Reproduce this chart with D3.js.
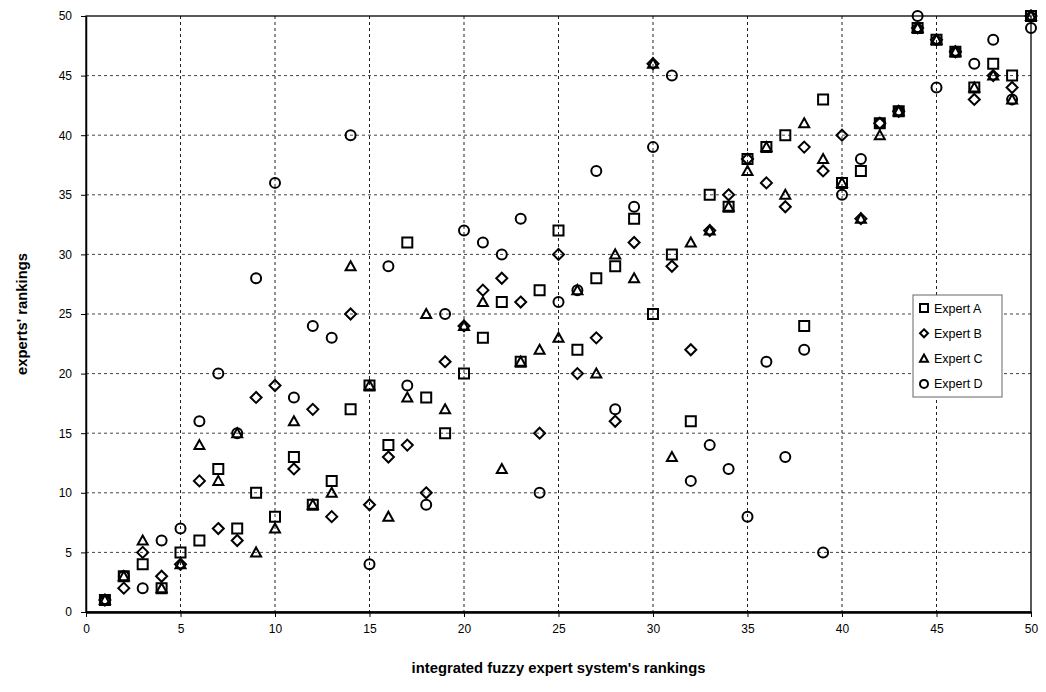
<!DOCTYPE html>
<html>
<head>
<meta charset="utf-8">
<script src="https://cdn.jsdelivr.net/npm/d3@7/dist/d3.min.js"></script>
<style>
  html, body { margin: 0; padding: 0; background: #fff; overflow: hidden; }
  svg { display: block; font-family: Arial, "Liberation Sans", sans-serif; }
</style>
</head>
<body>
<svg id="chart" width="1046" height="692"></svg>
<script>
// rank given by the integrated fuzzy expert system
const systemRank = [1,2,3,4,5,6,7,8,9,10,11,12,13,14,15,16,17,18,19,20,21,22,23,24,25,
  26,27,28,29,30,31,32,33,34,35,36,37,38,39,40,41,42,43,44,45,46,47,48,49,50];

const expertA = [1,3,4,2,5,6,12,7,10,8,13,9,11,17,19,14,31,18,15,20,23,26,21,27,32,
  22,28,29,33,25,30,16,35,34,38,39,40,24,43,36,37,41,42,49,48,47,44,46,45,50];
const expertB = [1,2,5,3,4,11,7,6,18,19,12,17,8,25,9,13,14,10,21,24,27,28,26,15,30,
  20,23,16,31,46,29,22,32,35,38,36,34,39,37,40,33,41,42,49,48,47,43,45,44,50];
const expertC = [1,3,6,2,4,14,11,15,5,7,16,9,10,29,19,8,18,25,17,24,26,12,21,22,23,
  27,20,30,28,46,13,31,32,34,37,39,35,41,38,36,33,40,42,49,48,47,44,45,43,50];
const expertD = [1,3,2,6,7,16,20,15,28,36,18,24,23,40,4,29,19,9,25,32,31,30,33,10,26,
  27,37,17,34,39,45,11,14,12,8,21,13,22,5,35,38,41,42,50,44,47,46,48,43,49];

const seriesNames = ['Expert A', 'Expert B', 'Expert C', 'Expert D'];
const seriesValues = [expertA, expertB, expertC, expertD];
const seriesShapes = ['square', 'diamond', 'triangle', 'circle'];
const axisTicks = [0,5,10,15,20,25,30,35,40,45,50];

const margin = {top: 16, right: 15, bottom: 80, left: 86};
const width = 1046, height = 692;
const innerWidth = width - margin.left - margin.right;
const innerHeight = height - margin.top - margin.bottom;

const svg = d3.select('#chart');
const g = svg.append('g')
  .attr('transform', 'translate(' + margin.left + ',' + margin.top + ')');

const x = d3.scaleLinear().domain([0, 50]).range([0, innerWidth]);
const y = d3.scaleLinear().domain([0, 50]).range([innerHeight, 0]);

// dashed grid
g.append('g').selectAll('line.h')
  .data(axisTicks.filter(t => t > 0 && t < 50))
  .join('line')
  .attr('x1', 0).attr('x2', innerWidth)
  .attr('y1', d => y(d)).attr('y2', d => y(d))
  .attr('stroke', '#444').attr('stroke-width', 1).attr('stroke-dasharray', '3,3');
g.append('g').selectAll('line.v')
  .data(axisTicks.filter(t => t > 0 && t < 50))
  .join('line')
  .attr('y1', 0).attr('y2', innerHeight)
  .attr('x1', d => x(d)).attr('x2', d => x(d))
  .attr('stroke', '#222').attr('stroke-width', 1).attr('stroke-dasharray', '3,3');

// frame
g.append('rect')
  .attr('width', innerWidth).attr('height', innerHeight)
  .attr('fill', 'none').attr('stroke', '#000').attr('stroke-width', 1.3);

const xAxis = g.append('g')
  .attr('transform', 'translate(0,' + innerHeight + ')')
  .call(d3.axisBottom(x).tickValues(axisTicks).tickSize(5).tickPadding(7).tickSizeOuter(0));
const yAxis = g.append('g')
  .call(d3.axisLeft(y).tickValues(axisTicks).tickSize(5).tickPadding(9).tickSizeOuter(0));
[xAxis, yAxis].forEach(a => {
  a.selectAll('text').attr('font-size', 12).attr('fill', '#000')
    .attr('font-family', 'Arial, "Liberation Sans", sans-serif');
  a.selectAll('line').attr('stroke', '#000');
});
xAxis.select('.domain').attr('stroke', '#000').attr('stroke-width', 2.5);
yAxis.select('.domain').attr('stroke', '#000').attr('stroke-width', 1.5);

function shapePath(shape, s) {
  const h = s / 2;
  if (shape === 'square') return `M${-h},${-h}H${h}V${h}H${-h}Z`;
  if (shape === 'diamond') return `M0,${-h}L${h},0L0,${h}L${-h},0Z`;
  if (shape === 'triangle') return `M0,${-h}L${h},${h * 0.8}L${-h},${h * 0.8}Z`;
  return `M${h},0A${h},${h} 0 1,1 ${-h},0A${h},${h} 0 1,1 ${h},0Z`;
}

seriesValues.forEach((vals, i) => {
  g.append('g').selectAll('path')
    .data(vals)
    .join('path')
    .attr('transform', (d, j) => 'translate(' + x(systemRank[j]) + ',' + y(d) + ')')
    .attr('d', shapePath(seriesShapes[i], i === 1 ? 11 : 10))
    .attr('fill', 'none')
    .attr('stroke', '#000')
    .attr('stroke-width', 2);
});

// legend
const legend = svg.append('g').attr('transform', 'translate(913,295)');
legend.append('rect')
  .attr('width', 89).attr('height', 102)
  .attr('fill', '#fff').attr('stroke', '#666').attr('stroke-width', 1);
seriesNames.forEach((name, i) => {
  const row = legend.append('g').attr('transform', 'translate(11,' + (13 + i * 25.3) + ')');
  row.append('path')
    .attr('d', shapePath(seriesShapes[i], 8))
    .attr('fill', 'none').attr('stroke', '#000').attr('stroke-width', 2);
  row.append('text')
    .attr('x', 10).attr('y', 4.5)
    .attr('font-size', 12.5)
    .text(name);
});

// axis titles
svg.append('text')
  .attr('x', margin.left + innerWidth / 2).attr('y', 673)
  .attr('text-anchor', 'middle')
  .attr('font-size', 14.8).attr('font-weight', 'bold')
  .text("integrated fuzzy expert system's rankings");
svg.append('text')
  .attr('transform', 'translate(27,' + (margin.top + innerHeight / 2) + ') rotate(-90)')
  .attr('text-anchor', 'middle')
  .attr('font-size', 14.8).attr('font-weight', 'bold')
  .text("experts' rankings");
</script>
</body>
</html>
